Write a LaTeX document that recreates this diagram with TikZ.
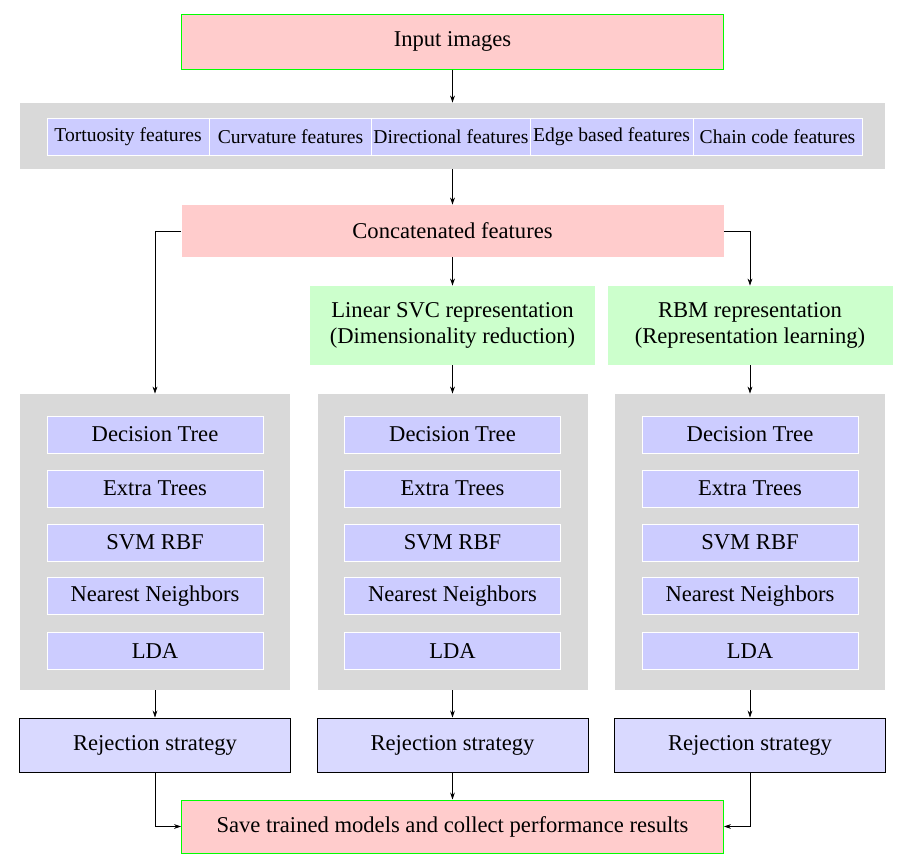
\documentclass[tikz,border=0pt]{standalone}
\usepackage{fontspec}
\setmainfont{Liberation Serif}
\usetikzlibrary{arrows.meta}
\tikzset{
  base/.style={inner sep=1pt, align=center, font=\fontsize{11.3}{13.4}\selectfont},
  pinkbox/.style={base, fill=red!20, minimum width=271pt},
  greenbox/.style={base, fill=green!20, minimum width=142.5pt, minimum height=39.5pt},
  graybox/.style={fill=gray!30, inner sep=0pt},
  featbox/.style={base, fill=blue!20, draw=white, line width=0.5pt, minimum height=18.5pt, font=\fontsize{9.8}{11}\selectfont},
  clsbox/.style={base, fill=blue!20, draw=white, line width=0.5pt, minimum width=108pt, minimum height=18.5pt},
  rejbox/.style={base, fill=blue!15, draw=black, line width=0.5pt, minimum width=135.5pt, minimum height=27pt},
  conn/.style={line width=0.4pt, -{Stealth[length=3.5pt,width=2.4pt]}}
}
\begin{document}
\begin{tikzpicture}[x=0.5pt,y=-0.5pt]
\useasboundingbox (0,0) rectangle (906,867);
% input
\node[pinkbox, draw=green, line width=0.5pt, minimum height=27.5pt] (in) at (452.5,41.5) {Input images};
% features
\node[graybox, minimum width=432.5pt, minimum height=33pt] (feat) at (452.5,136) {};
\node[featbox, minimum width=81pt] (f1) at (128,136.5) {Tortuosity features};
\node[featbox, minimum width=81.5pt] (f2) at (290.5,136.5) {Curvature features};
\node[featbox, minimum width=79pt] (f3) at (451,136.5) {Directional features};
\node[featbox, minimum width=81.5pt] (f4) at (611.5,136.5) {Edge based features};
\node[featbox, minimum width=84.5pt] (f5) at (777.5,136.5) {Chain code features};
% concatenated
\node[pinkbox, minimum height=26pt] (conc) at (452.5,231) {Concatenated features};
\node[greenbox] (svc) at (452.5,325.5) {Linear SVC representation\\(Dimensionality reduction)};
\node[greenbox] (rbm) at (750,325.5) {RBM representation\\(Representation learning)};
% classifier groups
\foreach \i/\x in {1/155,2/452.5,3/750}{
  \node[graybox, minimum width=135pt, minimum height=148pt] (g\i) at (\x,542) {};
  \node[clsbox] (dt\i) at (\x,434.5) {Decision Tree};
  \node[clsbox] (et\i) at (\x,488.5) {Extra Trees};
  \node[clsbox] (svm\i) at (\x,542.5) {SVM RBF};
  \node[clsbox] (nn\i) at (\x,596) {Nearest Neighbors};
  \node[clsbox] (lda\i) at (\x,651) {LDA};
  \node[rejbox] (r\i) at (\x,745) {Rejection strategy};
  \draw[conn] (g\i.south) -- (r\i.north);
}
\node[pinkbox, draw=green, line width=0.5pt, minimum height=26.5pt] (save) at (452.5,826.5) {Save trained models and collect performance results};
% connectors
\draw[conn] (in.south) -- (feat.north);
\draw[conn] (feat.south) -- (conc.north);
\draw[conn] (conc.west) -| (g1.north);
\draw[conn] (conc.east) -| (rbm.north);
\draw[conn] (conc.south) -- (svc.north);
\draw[conn] (svc.south) -- (g2.north);
\draw[conn] (rbm.south) -- (g3.north);
\draw[conn] (r1.south) |- (save.west);
\draw[conn] (r2.south) -- (save.north);
\draw[conn] (r3.south) |- (save.east);
\end{tikzpicture}
\end{document}
